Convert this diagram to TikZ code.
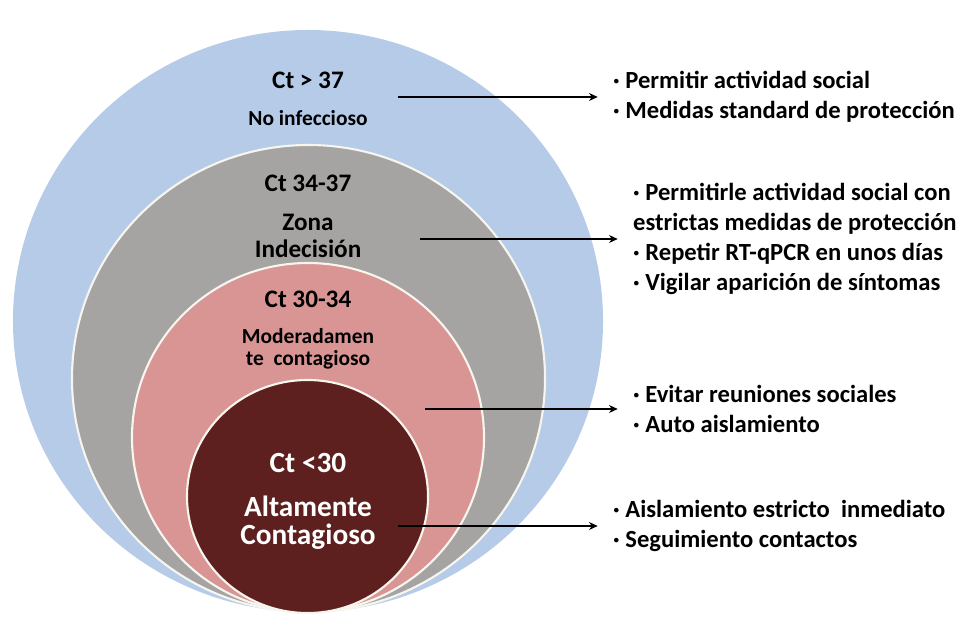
\documentclass[tikz,border=0pt]{standalone}
\usepackage{fontspec}
\setmainfont{Carlito}
\usetikzlibrary{arrows.meta, positioning, shapes.geometric}
\definecolor{ctblue}{RGB}{181,203,232}
\definecolor{ctgray}{RGB}{166,164,163}
\definecolor{ctpink}{RGB}{217,149,148}
\definecolor{ctdark}{RGB}{94,31,31}
\definecolor{ctrim}{RGB}{246,246,238}
\tikzset{
  zone/.style={
    ellipse,
    inner sep=0,
    draw=ctrim,
    line width=1.8pt,
  },
  lblbig/.style={font=\bfseries\fontsize{21.5}{25}\selectfont, inner sep=0},
  lblsmall/.style={font=\bfseries\fontsize{18.3}{22}\selectfont, inner sep=0},
  lblwhite/.style={white, inner sep=0, font=\bfseries\fontsize{25}{29}\selectfont},
  advice/.style={anchor=west, align=left, inner sep=0,
    font=\bfseries\fontsize{21}{25.5}\selectfont},
  arr/.style={-{Stealth[length=0.26cm,width=0.24cm]}, line width=1pt,
    shorten >=0.46cm},
}

\begin{document}
\begin{tikzpicture}[x=0.03cm, y=-0.03cm]
    \clip (0,0) rectangle (962,618);
    \fill[white] (0,0) rectangle (962,618);
    % nested zones
    \node (blue) [zone, draw=none, fill=ctblue, minimum width=17.7cm, minimum height=17.46cm] at (308,321) {};
    \node (gray) [zone, fill=ctgray, minimum width=14.19cm, minimum height=14.01cm] at (308.5,378.5) {};
    \node (pink) [zone, fill=ctpink, minimum width=10.56cm, minimum height=10.47cm] at (308,437.5) {};
    \node (dark) [zone, fill=ctdark, minimum width=7.23cm, minimum height=6.99cm] at (307.5,496.5) {};
    % labels
    \node (ct37) [lblbig] at (308,80) {Ct > 37};
    \node (noinf) [lblsmall] at (308,118) {No infeccioso};
    \node (ct3437) [lblbig] at (308,183) {Ct 34-37};
    \node (zona) [lblbig] at (308,222) {Zona};
    \node (indec) [lblbig] at (308,249) {Indecisión};
    \node (ct3034) [lblbig] at (308,299) {Ct 30-34};
    \node (moder) [lblsmall] at (308,336) {Moderadamen};
    \node (conta) [lblsmall] at (308,360) {te\ \ contagioso};
    \node (ct30) [lblwhite] at (308,463) {Ct <30};
    \node (alta) [lblwhite] at (308,506) {Altamente};
    \node (contg) [lblwhite] at (308,537) {Contagioso};
    % advice
    \node (b1) [advice] at (613,97) {· Permitir actividad social\\· Medidas standard de protección};
    \node (b2) [advice] at (633,239) {· Permitirle actividad social con\\estrictas medidas de protección\\· Repetir RT-qPCR en unos días\\· Vigilar aparición de síntomas};
    \node (b3) [advice] at (633,409) {· Evitar reuniones sociales\\· Auto aislamiento};
    \node (b4) [advice] at (613,526) {· Aislamiento estricto\ \ inmediato\\· Seguimiento contactos};
    \coordinate (s1) at (398,97);
    \coordinate (s2) at (420,239);
    \coordinate (s3) at (425,409);
    \coordinate (s4) at (398,526);
    \draw[arr] (s1) -- (b1.west);
    \draw[arr] (s2) -- (b2.west);
    \draw[arr] (s3) -- (b3.west);
    \draw[arr] (s4) -- (b4.west);
\end{tikzpicture}
\end{document}
